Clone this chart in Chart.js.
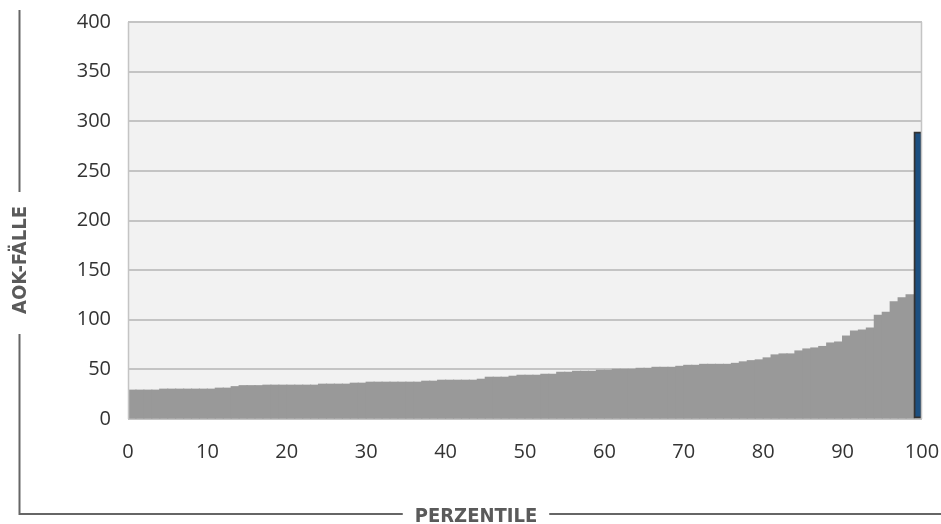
<!DOCTYPE html>
<html>
<head>
<meta charset="utf-8">
<script src="https://cdn.jsdelivr.net/npm/chart.js@4/dist/chart.umd.min.js"></script>
<style>
  html, body { margin: 0; padding: 0; background: #ffffff; }
  #wrap { position: relative; width: 941px; height: 524px; }
</style>
</head>
<body>
<div id="wrap"><canvas id="c" width="941" height="524"></canvas></div>
<script>
// Percentile bins (lower edge of each 1-percentile bar)
const percentiles = Array.from({length: 100}, (_, i) => i);
// AOK-Fälle per percentile
const aokFaelle = [
  29, 29, 29, 29,
  30, 30, 30, 30, 30, 30, 30,
  31, 31,
  32.5,
  33.5, 33.5, 33.5,
  34, 34, 34, 34, 34, 34, 34,
  35, 35, 35, 35,
  36, 36,
  37, 37, 37, 37, 37, 37, 37,
  38, 38,
  39, 39, 39, 39, 39,
  40,
  42, 42, 42,
  43,
  44, 44, 44,
  45, 45,
  47, 47,
  48, 48, 48,
  49, 49,
  50, 50, 50,
  51, 51,
  52, 52, 52,
  53,
  54, 54,
  55, 55, 55, 55,
  56,
  57.5, 58.7, 59.5, 61.5, 64.5, 65.5, 65.5, 68.5, 70.5, 71.5,
  73, 76.5, 77.5, 83.5, 88.5, 89.5, 91.5, 104.5, 107.5, 118,
  122, 125, 289
];
const yTicks = [0, 50, 100, 150, 200, 250, 300, 350, 400];
const xTicks = [0, 10, 20, 30, 40, 50, 60, 70, 80, 90, 100];
const yTitle = 'AOK-FÄLLE';
const xTitle = 'PERZENTILE';
const highlightIndex = 99;

const barColor = '#999999';
const highlightColor = '#1c4f80';

const frame = {
  id: 'frame',
  beforeDraw(chart) {
    const {ctx, chartArea: a} = chart;
    ctx.save();
    ctx.fillStyle = '#f2f2f2';
    ctx.fillRect(a.left, a.top, a.right - a.left, a.bottom - a.top);
    ctx.restore();
  },
  afterDraw(chart) {
    const {ctx, chartArea: a, width} = chart;
    ctx.save();
    ctx.strokeStyle = '#c4c4c4';
    ctx.lineWidth = 1.5;
    ctx.beginPath();
    ctx.moveTo(a.left + 0.5, a.top); ctx.lineTo(a.left + 0.5, a.bottom);
    ctx.moveTo(a.right - 0.5, a.top); ctx.lineTo(a.right - 0.5, a.bottom);
    ctx.stroke();

    // decorative axis-title lines
    ctx.font = 'bold 20px "Liberation Sans Narrow", "DejaVu Sans Condensed", sans-serif';
    ctx.strokeStyle = '#666666';
    ctx.lineWidth = 2;
    ctx.textAlign = 'center';
    ctx.textBaseline = 'alphabetic';
    const lx = 19.5, ly = 514;
    const yc = 260;
    const yw = ctx.measureText(yTitle).width;
    ctx.beginPath();
    ctx.moveTo(lx, 10); ctx.lineTo(lx, yc - yw / 2 - 14);
    ctx.moveTo(lx, yc + yw / 2 + 20); ctx.lineTo(lx, ly);
    ctx.lineTo(width, ly);
    ctx.stroke();
    ctx.fillStyle = '#5a5a5a';
    ctx.save();
    ctx.translate(26, yc);
    ctx.rotate(-Math.PI / 2);
    ctx.fillText(yTitle, 0, 0);
    ctx.restore();
    const xc = 476;
    const xw = ctx.measureText(xTitle).width;
    ctx.fillStyle = '#ffffff';
    ctx.fillRect(xc - xw / 2 - 12, ly - 4, xw + 24, 8);
    ctx.fillStyle = '#5a5a5a';
    ctx.fillText(xTitle, xc, 522);
    ctx.restore();
  }
};

new Chart(document.getElementById('c'), {
  type: 'bar',
  data: {
    datasets: [{
      data: percentiles.map((p, i) => ({x: p + 0.5, y: aokFaelle[i]})),
      backgroundColor: percentiles.map((p, i) => i === highlightIndex ? highlightColor : barColor),
      borderColor: percentiles.map((p, i) => i === highlightIndex ? '#333333' : barColor),
      borderWidth: percentiles.map((p, i) => i === highlightIndex ? 2 : 0),
      barPercentage: 1,
      categoryPercentage: 1,
      inflateAmount: 0.6,
      borderSkipped: false
    }]
  },
  options: {
    responsive: false,
    animation: false,
    devicePixelRatio: 1,
    layout: { padding: { left: 0, top: 22, right: 19, bottom: 0 } },
    plugins: { legend: { display: false }, tooltip: { enabled: false } },
    scales: {
      x: {
        type: 'linear',
        offset: false,
        min: 0, max: 100,
        afterBuildTicks: s => { s.ticks = xTicks.map(v => ({value: v})); },
        afterFit: s => { s.height = 105; s.paddingLeft = 0; s.paddingRight = 0; },
        grid: { display: false, drawTicks: false, offset: false },
        border: { display: false },
        ticks: { padding: 21, color: '#333333', font: { family: '"Open Sans"', size: 20 }, maxRotation: 0 }
      },
      y: {
        min: 0, max: 400,
        afterBuildTicks: s => { s.ticks = yTicks.map(v => ({value: v})); },
        afterFit: s => { s.width = 128; s.paddingTop = 0; s.paddingBottom = 0; },
        grid: { color: '#c4c4c4', lineWidth: 2, drawTicks: false },
        border: { display: false },
        ticks: { padding: 17, color: '#333333', font: { family: '"Open Sans"', size: 20 } }
      }
    }
  },
  plugins: [frame]
});
</script>
</body>
</html>
